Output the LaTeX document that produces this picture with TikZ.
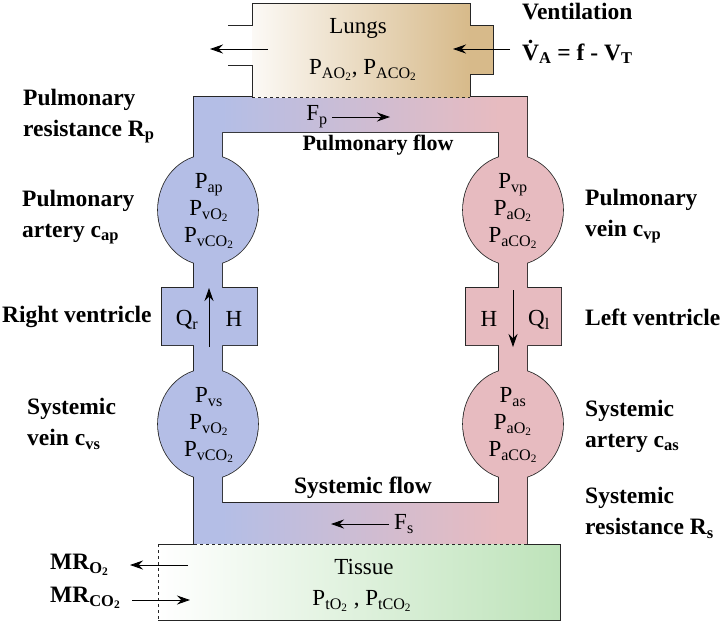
\documentclass[tikz,border=0pt]{standalone}
\usepackage{fontspec}
\setmainfont{Liberation Serif}
\usetikzlibrary{arrows.meta}

\definecolor{venous}{RGB}{180,190,230}
\definecolor{arterial}{RGB}{231,187,192}
\definecolor{lungtan}{RGB}{215,186,138}
\definecolor{tissuegreen}{RGB}{190,227,186}

\newcommand\sbs[1]{\textsubscript{#1}}
\newcommand\veinside{(194,97) rectangle (222,544) (208,210) ellipse [x radius=50pt, y radius=55pt] (208,424) ellipse [x radius=50pt, y radius=55pt] (162,288) rectangle (257,345)}
\newcommand\arteryside{(499,97) rectangle (527,544) (513,210) ellipse [x radius=50pt, y radius=55pt] (513,424) ellipse [x radius=50pt, y radius=55pt] (466,288) rectangle (561,345)}

\tikzset{
  wall/.style={draw=black!85, line width=1.6pt},
  rim/.style={draw=black!85, line width=0.8pt},
  flow/.style={-{Stealth[length=13pt,width=9pt]}, line width=0.9pt},
  val/.style={font=\fontsize{23}{27}\selectfont, align=center, inner sep=0pt},
  lbl/.style={font=\fontsize{23.5}{31}\selectfont\bfseries, align=left, inner sep=0pt, anchor=west},
}

\begin{document}
\begin{tikzpicture}[x=1pt, y=-1pt]
\useasboundingbox (0,0) rectangle (725,624);

% circulation loop
\draw[wall] \veinside \arteryside (194,97) rectangle (527,132) (194,503) rectangle (527,544);
\shade[left color=venous, right color=arterial] (222,97) rectangle (499,132) (222,503) rectangle (499,544);
\fill[venous] \veinside;
\fill[arterial] \arteryside;

% lungs
\shade[left color=lungtan!8, right color=lungtan] (252,3) rectangle (470,97);
\fill[lungtan] (470,25) rectangle (493,74);
\draw[rim] (228,25) -| (252,3) -| (470,25) -| (493,74) -| (470,97);
\draw[rim] (228,65) -| (252,97);
\draw[rim, dashed] (252,97) -- (470,97);

% tissue
\shade[left color=white, right color=tissuegreen] (158,544) rectangle (560,620);
\draw[rim] (194,544) -- (158,544);
\draw[rim, dashed] (158,544) -- (158,620);
\draw[rim] (158,620) -| (560,544) -- (527,544);
\draw[rim, dashed] (194,544) -- (527,544);

\node[val] (lungs) at (358,28) {Lungs};
\node[val] (alv) at (363,70) {P\sbs{AO\sbs{2}}, P\sbs{ACO\sbs{2}}};
\node[val] (tissue) at (364,567) {Tissue};
\node[val] (tis) at (362,601) {P\sbs{tO\sbs{2}} , P\sbs{tCO\sbs{2}}};

\node[val] (ap) at (209,211) {P\sbs{ap}\\P\sbs{vO\sbs{2}}\\P\sbs{vCO\sbs{2}}};
\node[val] (vp) at (513,211) {P\sbs{vp}\\P\sbs{aO\sbs{2}}\\P\sbs{aCO\sbs{2}}};
\node[val] (vs) at (209,425) {P\sbs{vs}\\P\sbs{vO\sbs{2}}\\P\sbs{vCO\sbs{2}}};
\node[val] (as) at (513,425) {P\sbs{as}\\P\sbs{aO\sbs{2}}\\P\sbs{aCO\sbs{2}}};

\node[val] (qr) at (187,320) {Q\sbs{r}};
\node[val] (hr) at (234,319) {H};
\node[val] (hl) at (489,319) {H};
\node[val] (ql) at (539,320) {Q\sbs{l}};
\node[val] (fp) at (317,117) {F\sbs{p}};
\node[val] (fs) at (404,524) {F\sbs{s}};

\coordinate (rv-in) at (209,347);
\coordinate (rv-out) at (209,288);
\coordinate (lv-in) at (513,290);
\coordinate (lv-out) at (513,347);
\coordinate (exp-a) at (268,49);
\coordinate (exp-b) at (210,49);
\coordinate (insp-a) at (510,49);
\coordinate (insp-b) at (453,49);
\coordinate (fp-a) at (332,117);
\coordinate (fp-b) at (390,117);
\coordinate (fs-a) at (389,524);
\coordinate (fs-b) at (331,524);
\coordinate (o2-a) at (188,565);
\coordinate (o2-b) at (130,565);
\coordinate (co2-a) at (132,600);
\coordinate (co2-b) at (190,600);

\draw[flow] (rv-in) -- (rv-out);
\draw[flow] (lv-in) -- (lv-out);
\draw[flow] (exp-a) -- (exp-b);
\draw[flow] (insp-a) -- (insp-b);
\draw[flow] (fp-a) -- (fp-b);
\draw[flow] (fs-a) -- (fs-b);
\draw[flow] (o2-a) -- (o2-b);
\draw[flow] (co2-a) -- (co2-b);

\node[lbl, anchor=center, font=\fontsize{22}{24}\selectfont\bfseries] (pflow) at (378,145) {Pulmonary flow};
\node[lbl, anchor=center] (sflow) at (363,488) {Systemic flow};

\node[lbl] (vent) at (522,12) {Ventilation};
\node[lbl] (va) at (522,52) {\.{V}\sbs{A} = f - V\sbs{T}};
\node[lbl] (rp) at (23,116) {Pulmonary\\resistance R\sbs{p}};
\node[lbl] (cap) at (22,217) {Pulmonary\\artery c\sbs{ap}};
\node[lbl] (rvl) at (2,317) {Right ventricle};
\node[lbl] (cvs) at (27,424) {Systemic\\vein c\sbs{vs}};
\node[lbl] (cvp) at (585,216) {Pulmonary\\vein c\sbs{vp}};
\node[lbl] (lvl) at (585,317) {Left ventricle};
\node[lbl] (cas) at (585,426) {Systemic\\artery c\sbs{as}};
\node[lbl] (rs) at (585,513) {Systemic\\resistance R\sbs{s}};
\node[lbl] (mro) at (50,565) {MR\sbs{O\sbs{2}}};
\node[lbl] (mrc) at (50,598) {MR\sbs{CO\sbs{2}}};
\end{tikzpicture}
\end{document}
